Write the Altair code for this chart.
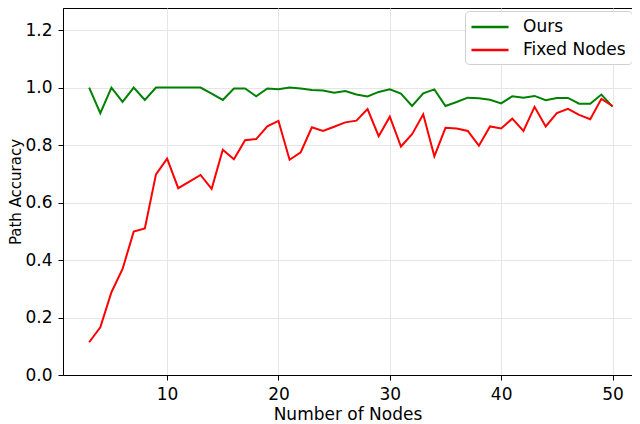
import altair as alt
import pandas as pd

nodes = list(range(3, 51))
ours = [1.0, 0.911, 1.0, 0.95, 1.0, 0.957, 1.0, 1.0, 1.0, 1.0, 1.0, 0.979, 0.957, 0.997,
        0.997, 0.97, 0.997, 0.994, 1.0, 0.997, 0.992, 0.99, 0.982, 0.988, 0.976, 0.969,
        0.985, 0.994, 0.979, 0.936, 0.98, 0.994, 0.936, 0.95, 0.965, 0.963, 0.958, 0.945,
        0.97, 0.965, 0.971, 0.956, 0.964, 0.964, 0.944, 0.944, 0.976, 0.934]
fixed = [0.114, 0.166, 0.288, 0.369, 0.499, 0.51, 0.698, 0.753, 0.65, 0.673, 0.696, 0.648,
         0.784, 0.751, 0.817, 0.821, 0.865, 0.884, 0.749, 0.775, 0.862, 0.849, 0.864, 0.879,
         0.885, 0.925, 0.831, 0.899, 0.795, 0.838, 0.907, 0.761, 0.86, 0.858, 0.849, 0.798,
         0.865, 0.858, 0.892, 0.849, 0.933, 0.865, 0.911, 0.926, 0.905, 0.89, 0.961, 0.936]
series = ["Ours", "Fixed Nodes"]
colors = ["#008000", "#ff0000"]
x_ticks = [10, 20, 30, 40, 50]
y_ticks = [0, 0.2, 0.4, 0.6, 0.8, 1.0, 1.2]

df = pd.DataFrame(
    [{"nodes": n, "acc": v, "method": series[0]} for n, v in zip(nodes, ours)]
    + [{"nodes": n, "acc": v, "method": series[1]} for n, v in zip(nodes, fixed)]
)

font = "DejaVu Sans"
fs = 17

chart = (
    alt.Chart(df)
    .mark_line(strokeWidth=2)
    .encode(
        x=alt.X(
            "nodes:Q",
            scale=alt.Scale(domain=[0.65, 51.75], nice=False, zero=False),
            axis=alt.Axis(values=x_ticks, title="Number of Nodes"),
        ),
        y=alt.Y(
            "acc:Q",
            scale=alt.Scale(domain=[0, 1.277], nice=False),
            axis=alt.Axis(values=y_ticks, format=".1f", title="Path Accuracy",
                          titleFontSize=15, titlePadding=1),
        ),
        color=alt.Color(
            "method:N",
            scale=alt.Scale(domain=series, range=colors),
            sort=series,
            legend=alt.Legend(
                title=None,
                orient="none",
                legendX=402,
                legendY=3,
                symbolType="M-2.18,0H2.18",
                symbolStrokeWidth=2.5,
                symbolSize=289,
                symbolOffset=9,
                labelFont=font,
                labelFontSize=fs,
                labelColor="black",
                labelOffset=23,
                strokeColor="#d0d0d0",
                cornerRadius=4,
                padding=6,
                fillColor="white",
                rowPadding=5,
            ),
        ),
        detail="method:N",
    )
    .properties(
        width=569,
        height=367,
        autosize=alt.AutoSizeParams(type="none"),
        padding={"left": 55, "top": 0, "right": 0, "bottom": 49},
    )
    .configure_view(stroke="black", strokeWidth=1)
    .configure_axis(
        domainColor="black",
        domainWidth=1,
        tickColor="black",
        tickSize=5,
        tickWidth=1,
        labelFont=font,
        labelFontSize=fs,
        labelColor="black",
        titleFont=font,
        titleFontSize=fs,
        titleFontWeight="normal",
        titleColor="black",
        gridColor="#e6e6e6",
        gridWidth=1,
        labelPadding=6,
    )
    .configure_axisX(titlePadding=4)
)

chart.save("out.html", embed_options={"renderer": "svg", "actions": False})
